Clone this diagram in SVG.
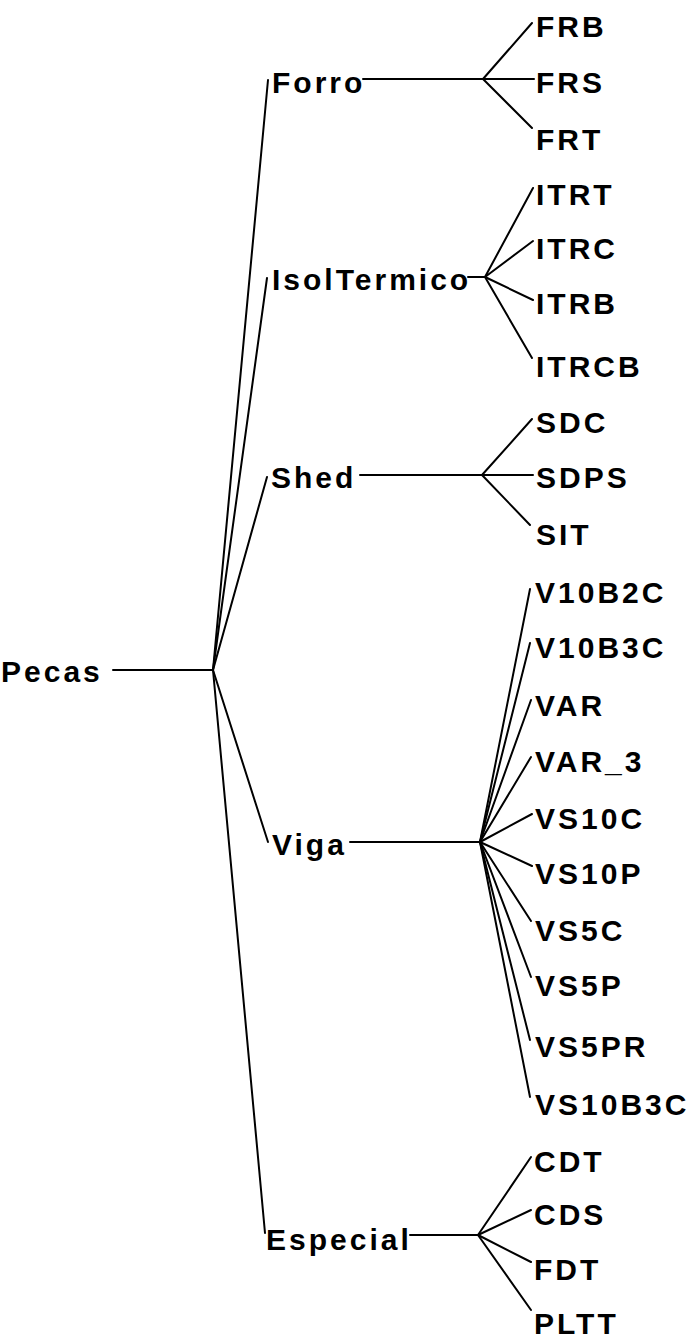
<svg xmlns="http://www.w3.org/2000/svg" width="697" height="1340" viewBox="0 0 697 1340">
<style>
text{font-family:"Liberation Sans",Arial,sans-serif;font-size:30px;font-weight:bold;letter-spacing:3px;fill:#000}
.c line{stroke:#000;stroke-width:2;stroke-linecap:round}
</style>
<rect width="697" height="1340" fill="#fff"/>
<g class="c" id="connectors">
<line x1="113" y1="670" x2="213" y2="670"/>
<line x1="213" y1="670" x2="268" y2="80"/>
<line x1="213" y1="670" x2="267" y2="278"/>
<line x1="213" y1="670" x2="267" y2="477"/>
<line x1="213" y1="670" x2="268" y2="842"/>
<line x1="213" y1="670" x2="265" y2="1233"/>
<line x1="363" y1="79" x2="483" y2="79"/>
<line x1="483" y1="79" x2="532" y2="23"/>
<line x1="483" y1="79" x2="534" y2="79"/>
<line x1="483" y1="79" x2="532" y2="128"/>
<line x1="468" y1="277" x2="485" y2="277"/>
<line x1="485" y1="277" x2="533" y2="188"/>
<line x1="485" y1="277" x2="533" y2="241"/>
<line x1="485" y1="277" x2="533" y2="300"/>
<line x1="485" y1="277" x2="532" y2="358"/>
<line x1="360" y1="475" x2="482" y2="475"/>
<line x1="482" y1="475" x2="532" y2="419"/>
<line x1="482" y1="475" x2="533" y2="475"/>
<line x1="482" y1="475" x2="530" y2="525"/>
<line x1="350" y1="842" x2="480" y2="842"/>
<line x1="480" y1="842" x2="530" y2="589"/>
<line x1="480" y1="842" x2="530" y2="643"/>
<line x1="480" y1="842" x2="531" y2="700"/>
<line x1="480" y1="842" x2="531" y2="757"/>
<line x1="480" y1="842" x2="532" y2="814"/>
<line x1="480" y1="842" x2="532" y2="866"/>
<line x1="480" y1="842" x2="531" y2="921"/>
<line x1="480" y1="842" x2="531" y2="977"/>
<line x1="480" y1="842" x2="530" y2="1040"/>
<line x1="480" y1="842" x2="530" y2="1097"/>
<line x1="410" y1="1235" x2="478" y2="1235"/>
<line x1="478" y1="1235" x2="531" y2="1157"/>
<line x1="478" y1="1235" x2="531" y2="1210"/>
<line x1="478" y1="1235" x2="531" y2="1262"/>
<line x1="478" y1="1235" x2="531" y2="1310"/>
</g>
<g id="n-pecas"><text x="1" y="682">Pecas</text></g>
<g id="n-forro"><text x="272" y="93">Forro</text></g>
<g id="n-isoltermico"><text x="272" y="290">IsolTermico</text></g>
<g id="n-shed"><text x="271" y="488">Shed</text></g>
<g id="n-viga"><text x="272" y="855">Viga</text></g>
<g id="n-especial"><text x="266" y="1250">Especial</text></g>
<g id="n-frb"><text x="536" y="37">FRB</text></g>
<g id="n-frs"><text x="536" y="93">FRS</text></g>
<g id="n-frt"><text x="536" y="150">FRT</text></g>
<g id="n-itrt"><text x="536" y="205">ITRT</text></g>
<g id="n-itrc"><text x="536" y="259">ITRC</text></g>
<g id="n-itrb"><text x="536" y="314">ITRB</text></g>
<g id="n-itrcb"><text x="536" y="377">ITRCB</text></g>
<g id="n-sdc"><text x="536" y="433">SDC</text></g>
<g id="n-sdps"><text x="536" y="488">SDPS</text></g>
<g id="n-sit"><text x="536" y="545">SIT</text></g>
<g id="n-v10b2c"><text x="535" y="603">V10B2C</text></g>
<g id="n-v10b3c"><text x="535" y="658">V10B3C</text></g>
<g id="n-var"><text x="535" y="716">VAR</text></g>
<g id="n-var3"><text x="535" y="772">VAR_3</text></g>
<g id="n-vs10c"><text x="535" y="829">VS10C</text></g>
<g id="n-vs10p"><text x="535" y="884">VS10P</text></g>
<g id="n-vs5c"><text x="535" y="941">VS5C</text></g>
<g id="n-vs5p"><text x="535" y="996">VS5P</text></g>
<g id="n-vs5pr"><text x="535" y="1057">VS5PR</text></g>
<g id="n-vs10b3c"><text x="535" y="1115">VS10B3C</text></g>
<g id="n-cdt"><text x="534" y="1172">CDT</text></g>
<g id="n-cds"><text x="534" y="1225">CDS</text></g>
<g id="n-fdt"><text x="534" y="1280">FDT</text></g>
<g id="n-pltt"><text x="534" y="1334">PLTT</text></g>
</svg>
